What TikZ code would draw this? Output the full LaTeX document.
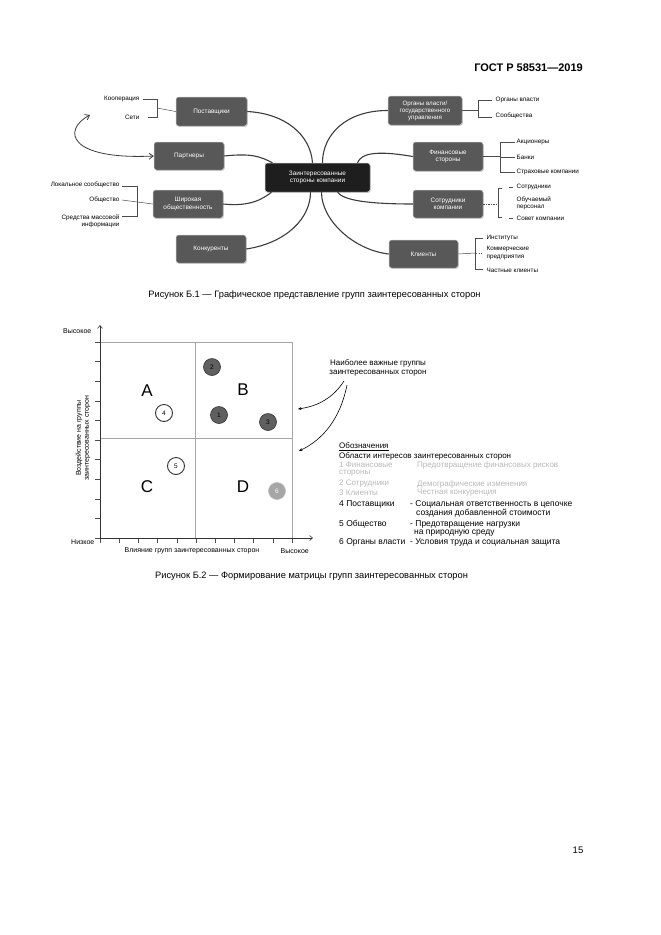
\documentclass[tikz,border=0pt]{standalone}
\usepackage{fontspec}
\setmainfont{Liberation Sans}
\usetikzlibrary{shadows,arrows.meta}
\definecolor{mmgray}{RGB}{88,88,88}
\definecolor{mmdark}{RGB}{30,30,30}
\definecolor{conncol}{RGB}{60,60,60}
\begin{document}
\begin{tikzpicture}[x=1pt,y=-1pt,
  mm/.style={rounded corners=2.5pt, fill=mmgray, draw=gray!45, line width=0.5pt, text=white,
    font=\fontsize{6.4}{7.3}\selectfont, align=center, inner sep=1pt,
    minimum width=70pt, minimum height=28pt,
    drop shadow={shadow xshift=0.8pt, shadow yshift=-0.8pt, opacity=0.35}},
  mmc/.style={mm, fill=mmdark, minimum width=105pt, minimum height=29pt},
  leaf/.style={font=\fontsize{6.3}{7.3}\selectfont, inner sep=0.5pt, align=left},
  leafr/.style={leaf, anchor=east, align=right},
  leafl/.style={leaf, anchor=west},
  br/.style={draw=gray!60!black, line width=0.5pt},
  conn/.style={draw=conncol, line width=1.1pt},
  ax/.style={draw=black!80, line width=0.6pt},
  mgrid/.style={draw=gray!70, line width=0.6pt},
  mtick/.style={draw=black!70, line width=0.5pt},
  circd/.style={circle, draw=black!80, line width=0.6pt, fill=gray!75!black, minimum size=17pt, inner sep=0pt, font=\fontsize{6.5}{7}\selectfont},
  circw/.style={circd, fill=white, line width=0.9pt},
  circl/.style={circd, fill=gray!70, draw=gray!50, text=white},
  bigl/.style={font=\fontsize{17}{18}\selectfont},
  axl/.style={font=\fontsize{7}{8}\selectfont, inner sep=0.5pt},
  lgh/.style={font=\fontsize{8}{9}\selectfont, anchor=west, inner sep=0pt},
  lgf/.style={lgh, text=gray!55},
  lg/.style={font=\fontsize{8.5}{9.5}\selectfont, anchor=west, inner sep=0pt},
  figcap/.style={font=\fontsize{9.3}{11}\selectfont, inner sep=0pt}
]
\fill[white] (0,0) rectangle (661,935);
\useasboundingbox (0,0) rectangle (661,935);

% header and page number
\node[font=\bfseries\fontsize{11}{13}\selectfont, anchor=east, inner sep=0pt] (hdr) at (583,68) {ГОСТ Р 58531—2019};
\node[font=\fontsize{9.5}{11}\selectfont, inner sep=0pt] (pg) at (578,850) {15};

% ===== Figure B.1 : mind map =====
\node[mmc] (cent) at (317.5,177.5) {Заинтересованные\\стороны компании};
\node[mm, minimum width=71pt, minimum height=29pt] (post) at (211.5,111.5) {Поставщики};
\node[mm] (part) at (189,156) {Партнеры};
\node[mm] (shir) at (188,204) {Широкая\\общественность};
\node[mm] (konk) at (211,249) {Конкуренты};
\node[mm, minimum width=74pt, minimum height=29pt, font=\fontsize{6.2}{7}\selectfont] (org) at (425,110.5) {Органы власти/\\государственного\\управления};
\node[mm, minimum height=29pt] (fin) at (448,156.5) {Финансовые\\стороны};
\node[mm] (sotr) at (448,204) {Сотрудники\\компании};
\node[mm, minimum width=69pt] (kli) at (423.5,254) {Клиенты};

% connectors
\draw[conn] (post.east) .. controls +(38,2) and +(-2,-28) .. ([xshift=-5pt]cent.north);
\draw[conn] (part.east) .. controls +(28,-3) and +(-12,-6) .. ([xshift=-45pt]cent.north);
\draw[conn] (shir.east) .. controls +(28,3) and +(-8,6) .. ([xshift=-46pt]cent.south);
\draw[conn] (konk.east) .. controls +(40,-6) and +(0,26) .. ([xshift=-7pt]cent.south);
\draw[conn] (org.west) .. controls +(-42,0) and +(0,-28) .. ([xshift=5pt]cent.north);
\draw[conn] (fin.west) .. controls +(-35,-6) and +(4,-10) .. ([xshift=40pt]cent.north);
\draw[conn] (sotr.west) .. controls +(-45,0) and +(6,8) .. ([xshift=20pt]cent.south);
\draw[conn] (kli.west) .. controls +(-35,-4) and +(0,28) .. ([xshift=4pt]cent.south);

% partners double arrow
\coordinate (pa1) at (90,115);
\draw[line width=0.8pt, draw=conncol, {Straight Barb[length=4pt,width=6pt]}-{Straight Barb[length=4pt,width=6pt]}]
  (pa1) .. controls (62,130) and (68,160) .. (part.west);

% leaves: Поставщики
\node[leafr] (l1) at (140,99) {Кооперация};
\node[leafr] (l2) at (140,117) {Сети};
\draw[br] (l1.east) ++(3,0) -- (157,99) -- (157,117) -- ++(-9,0);
\draw[br] (157,108) -- (post.west);

% leaves: Широкая общественность
\node[leafr] (l3) at (120,185) {Локальное сообщество};
\node[leafr] (l4) at (120,200) {Общество};
\node[leafr] (l5) at (120,221) {Средства массовой\\информации};
\draw[br] (122,186) -- (137,186) -- (137,216) -- (122,216);
\draw[br] (122,200) -- (shir.west);

% leaves: Органы власти
\node[leafl] (r1) at (495,100) {Органы власти};
\node[leafl] (r2) at (495,116) {Сообщества};
\draw[br] (org.east) -- (478,110.5);
\draw[br] (492,100) -- (478,100) -- (478,117) -- (492,117);

% leaves: Финансовые стороны
\node[leafl] (r3) at (516,142) {Акционеры};
\node[leafl] (r4) at (516,157) {Банки};
\node[leafl] (r5) at (516,172) {Страховые компании};
\draw[br] (fin.east) -- (500,156.5);
\draw[br] (515,142) -- (500,142) -- (500,172) -- (515,172);
\draw[br] (500,157) -- (515,157);

% leaves: Сотрудники компании
\node[leafl] (r6) at (516,187) {Сотрудники};
\node[leafl] (r7) at (516,203) {Обучаемый\\персонал};
\node[leafl] (r8) at (516,218) {Совет компании};
\draw[br, dash pattern=on 1.5pt off 1pt] (sotr.east) -- (498,204);
\draw[br] (502,188) -- (498,188) -- (498,217) -- (502,217);
\draw[br] (509,187) -- (513,187);
\draw[br] (509,218) -- (513,218);

% leaves: Клиенты
\node[leafl] (r9) at (486,238) {Институты};
\node[leafl] (r10) at (486,253) {Коммерческие\\предприятия};
\node[leafl] (r11) at (486,270) {Частные клиенты};
\draw[br] (kli.east) -- (475,253);
\draw[br] (483,238) -- (475,238) -- (475,269) -- (483,269);
\draw[br, dotted] (476,253) -- (483,253);

\node[figcap] (cap1) at (314.5,295) {Рисунок Б.1 — Графическое представление групп заинтересованных сторон};

% ===== Figure B.2 : matrix =====
\coordinate (o) at (100,538);
\coordinate (ytop) at (100,325);
\coordinate (xend) at (313,538);
\draw[mgrid] (100,342) rectangle (292,538);
\draw[mgrid] (195,342) -- (195,538);
\draw[mgrid] (100,438) -- (292,438);
\foreach \i in {0,...,10} {
  \draw[mtick] (95,{342+19.6*\i}) -- (100,{342+19.6*\i});
  \draw[mtick] ({100+19.2*\i},538) -- ({100+19.2*\i},543);
}
\draw[ax, -{Straight Barb[length=3pt,width=5pt]}] (o) -- (ytop);
\draw[ax, -{Straight Barb[length=3pt,width=5pt]}] (o) -- (xend);

\node[axl, anchor=east] (yhi) at (92,331) {Высокое};
\node[axl, anchor=east] (ylo) at (95,542) {Низкое};
\node[axl] (xlab) at (192,551) {Влияние групп заинтересованных сторон};
\node[axl, anchor=west] (xhi) at (280,551) {Высокое};
\node[axl, rotate=90, align=center] (ylab) at (83,438) {Воздействие на группы\\заинтересованных сторон};

\node[bigl] (A) at (147,391) {A};
\node[bigl] (B) at (243,390) {B};
\node[bigl] (C) at (147,487) {C};
\node[bigl] (D) at (243,487) {D};

\node[circd] (c2) at (212,367) {2};
\node[circw] (c4) at (164,413) {4};
\node[circd] (c1) at (219,415) {1};
\node[circd] (c3) at (268,422) {3};
\node[circw] (c5) at (176,466) {5};
\node[circl] (c6) at (277,491) {6};

% annotation
\node[font=\fontsize{8}{9}\selectfont, align=center, inner sep=0pt] (anno) at (378,368) {Наиболее важные группы\\заинтересованных сторон};
\coordinate (a1) at (344,381);
\coordinate (a2) at (347,385);
\coordinate (t1) at (298,409);
\coordinate (t2) at (299,451);
\draw[line width=0.6pt, -{Stealth[length=3.5pt,width=3pt]}] (a1) .. controls (333,398) and (318,406) .. (t1);
\draw[line width=0.6pt, -{Stealth[length=3.5pt,width=3pt]}] (a2) .. controls (340,420) and (322,440) .. (t2);

% legend
\node[lgh] (lg0) at (339,447) {\underline{Обозначения}};
\node[lgh] (lg1) at (339,456) {Области интересов заинтересованных сторон};
\node[lgf] (f1a) at (339,465) {1 Финансовые};
\node[lgf] (f1b) at (339,473) {стороны};
\node[lgf] (f1c) at (417,465) {Предотвращение финансовых рисков};
\node[lgf] (f2a) at (339,484) {2 Сотрудники};
\node[lgf] (f2c) at (417,484) {Демографические изменения};
\node[lgf] (f3a) at (339,493) {3 Клиенты};
\node[lgf] (f3c) at (417,493) {Честная конкуренция};
\node[lg] (g4a) at (339,504) {4 Поставщики};
\node[lg] (g4b) at (410,504) {- Социальная ответственность в цепочке};
\node[lg] (g4c) at (416,513.5) {создания добавленной стоимости};
\node[lg] (g5a) at (339,524) {5 Общество};
\node[lg] (g5b) at (410,524) {- Предотвращение нагрузки};
\node[lg] (g5c) at (414,533) {на природную среду};
\node[lg] (g6a) at (339,542.5) {6 Органы власти};
\node[lg] (g6b) at (410,542.5) {- Условия труда и социальная защита};

\node[figcap] (cap2) at (311.5,576) {Рисунок Б.2 — Формирование матрицы групп заинтересованных сторон};
\end{tikzpicture}
\end{document}
